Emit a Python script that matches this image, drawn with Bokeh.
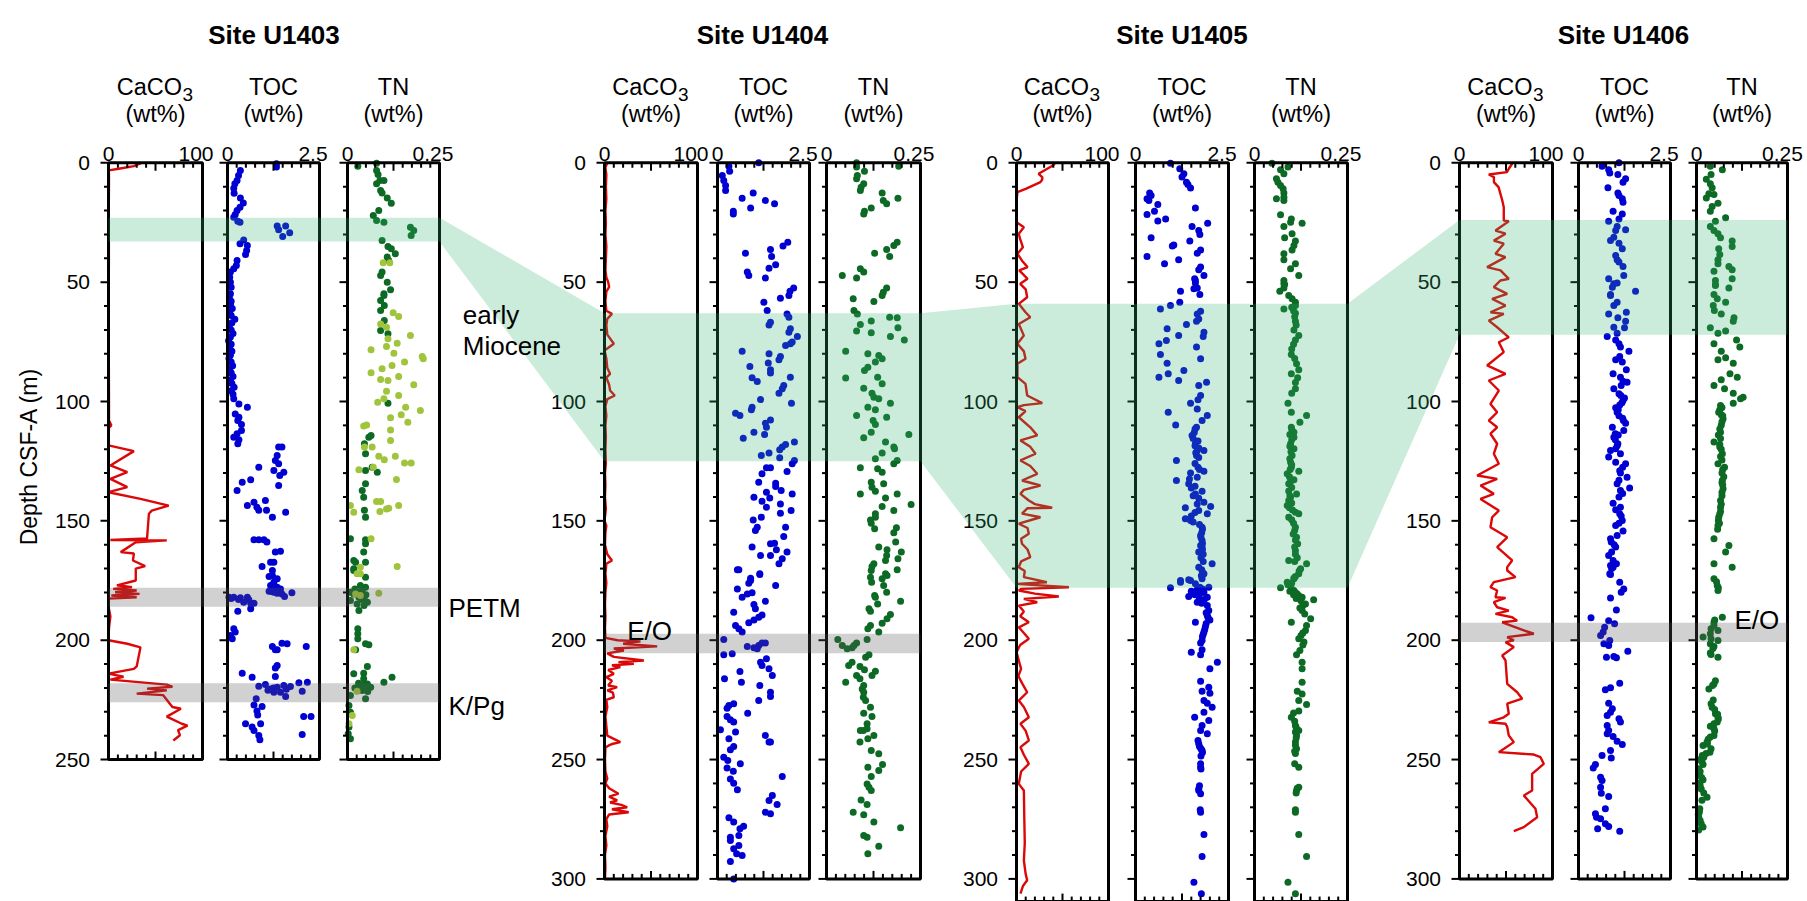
import math
from bokeh.plotting import figure
from bokeh.models import Range1d
from bokeh.core.properties import value
from bokeh.embed import file_html
from bokeh.resources import INLINE

# ======================= DATA =======================
SITES = ["Site U1403", "Site U1404", "Site U1405", "Site U1406"]
PROXIES = ["CaCO3", "TOC", "TN"]
AXIS_MAX = [100, 2.5, 0.25]
AXIS_MAX_LABELS = ["100", "2.5", "0.25"]
SITE_DEPTH_MAX = [250, 300, 309.5, 300]
DEPTH_TICK_LABELS = [[0, 50, 100, 150, 200, 250],
                     [0, 50, 100, 150, 200, 250, 300],
                     [0, 50, 100, 150, 200, 250, 300],
                     [0, 50, 100, 150, 200, 250, 300]]

# (depth m, CaCO3 wt%)
U1403_CACO3 = [(0, 35), (1.4, 27), (2.5, 11), (3.2, 0), (5, 0.5), (20, 0.3), (40, 0.4), (60, 0.2), (80, 0.3),
               (100, 0.5), (108, 0.5), (110, 3), (111, 0.5), (118.4, 0), (120.8, 27), (126.8, 2), (129.6, 20),
               (132.4, 2), (135.9, 20), (138, 0), (140.8, 34), (143.6, 64), (145.7, 46), (147, 43), (157.4, 41),
               (158.0, 2), (158.2, 62), (159, 29), (163.1, 13), (163.7, 27), (166.6, 26), (169, 39), (170, 29),
               (175, 29), (177, 9), (177.8, 25), (178.5, 5), (179.2, 30), (179.9, 7), (180.6, 33), (181.3, 3),
               (182, 30), (182.6, 0), (186, 0), (190, 2), (195, 0.5), (200, 0), (201.5, 20), (203, 34), (211, 30),
               (212, 27), (214, 0), (215.3, 16), (216.5, 2), (218.6, 62), (219.5, 68), (220.3, 41), (221, 62),
               (222.4, 30), (223, 58), (228, 68), (228.7, 77), (232, 62), (235, 78), (235.8, 84), (237.7, 74),
               (239.8, 76), (242, 69)]

U1404_CACO3 = [(0, 3), (2, 1), (5, 2), (10, 1.5), (15, 2), (20, 1), (25, 1.5), (30, 1), (35, 2), (40, 1.5), (45, 1),
               (48, 2), (50, 4), (52, 5), (54, 2), (58, 1), (62, 2), (63.3, 8), (65.4, 3), (68, 2), (72, 3),
               (75.8, 10), (78.6, 0), (82, 2), (86, 3), (88.4, 6), (90, 2), (93, 5), (95.4, 6), (97.5, 11), (99, 3),
               (102, 1), (106, 2), (110, 1), (115, 1.5), (120, 1), (126, 1.5), (130, 0.5), (135, 1), (140, 0.5),
               (145, 1.5), (150, 0), (152, 2), (155, 1), (160, 0.5), (164, 3), (166.6, 8), (168, 2), (172, 1),
               (176, 2), (180, 1), (185, 0.5), (190, 1), (195, 0.5), (199, 1), (200, 14), (200.5, 38.7),
               (201.5, 20), (202.6, 56.6), (203.5, 10), (204.3, 20.8), (205.5, 3), (207, 10), (208.5, 42.3),
               (209.2, 15), (209.9, 31.5), (210.5, 8), (211.3, 17), (212.5, 4), (214.1, 10), (215.5, 2), (217, 8),
               (219, 4), (219.7, 13.6), (221, 3), (222, 9), (223.9, 10), (225, 2), (228, 3), (232, 1), (236, 2),
               (240, 3), (242.7, 17), (243.5, 8), (244.1, 4.6), (245, 1), (250, 0.5), (255, 1), (258, 3), (260, 1),
               (262, 5), (264.3, 15), (265.5, 5), (267.1, 13.6), (268, 6), (269, 18), (270, 24.4), (270.8, 8),
               (272.1, 26), (273, 5), (275, 2), (278, 3), (282, 1), (286, 2), (290, 0.5), (295, 1), (300, 0.5)]

U1405_CACO3 = [(0, 42), (1, 40), (4.6, 24), (6, 28), (7, 28), (8.1, 26), (10.9, 10), (12.3, 1), (15.8, 0),
               (24.9, 0), (25.5, 2.5), (27, 8), (29.7, 2.5), (32, 4), (35.4, 7), (38.1, 1), (41, 6), (43.7, 12),
               (45.1, 3), (48.6, 12), (50.7, 4), (53, 10), (56.3, 11.6), (59.1, 2.5), (62.6, 9.8), (64.7, 15),
               (67.5, 2.5), (72.4, 8), (75.8, 1), (79, 8), (82.1, 9.8), (84.2, 1), (89.8, 1), (92.6, 9.8),
               (97.5, 11.6), (100.7, 28), (101.5, 8), (102.4, 1), (104, 9.8), (106.6, 2.5), (110.8, 15),
               (114.2, 22.5), (116.3, 4.3), (119, 15), (121.9, 20.7), (124.7, 4.3), (127, 15), (130.3, 22.5),
               (133.1, 6), (135.2, 26), (137, 8), (138.7, 4.3), (141.5, 13.4), (143, 20), (144.5, 38.8),
               (144.7, 12), (147, 6), (148.5, 26), (151.2, 2.5), (153, 12), (155.4, 13.4), (157.5, 5), (159.6, 6),
               (162, 12), (165.2, 15), (167, 5), (169.4, 2.5), (171, 9), (173.6, 8), (175.7, 33), (176.4, 0.7),
               (177.8, 57), (178.5, 5), (179.2, 2.5), (180.5, 20), (181.7, 46), (182.7, 8), (184.1, 22.5),
               (185.5, 2.5), (188, 8), (190, 4), (192.5, 13.4), (194.6, 2.5), (197, 8), (199.4, 13.4), (202, 4),
               (205, 0), (208.5, 2.5), (212, 5), (215, 2), (218, 6), (221.8, 11.6), (225.3, 2.5), (228, 8),
               (232.3, 13.4), (235, 4.3), (238, 10), (242, 13.4), (244.8, 4.3), (248, 8), (251.8, 13.4), (255, 5),
               (260.2, 2.5), (263, 8), (275, 8.5), (285, 9), (292.3, 8), (298, 10), (300.6, 11.6), (303, 7),
               (306.2, 4.3)]

U1406_CACO3 = [(0.4, 56.6), (2.5, 53), (3.9, 51), (4.9, 31.5), (6, 37), (8.1, 37), (10.2, 42), (13, 44),
               (15.8, 46), (18.6, 47.6), (21.4, 47.6), (24.2, 47.6), (24.5, 53), (28.4, 38.7), (29.7, 49.5),
               (32.6, 36.9), (33.9, 47.6), (38.1, 38.7), (39.5, 49.5), (43.7, 29.7), (45.1, 44.1), (48.6, 53),
               (49.3, 44), (52.1, 36.9), (54.9, 51.3), (57, 35.1), (59.8, 49.5), (62.6, 33.3), (63.3, 47.6),
               (66.1, 31.5), (68.9, 40.5), (73.1, 53), (75.2, 42.3), (79.3, 47.6), (84.9, 29.7), (88.4, 49.5),
               (91.2, 31.5), (95.4, 42.3), (101, 33.3), (104.5, 40.5), (108, 31.5), (110.8, 40.5), (113.5, 33.3),
               (117.7, 40.5), (121.9, 36.9), (126.1, 42.3), (131, 19), (132.4, 40.5), (135.2, 22.6), (138.7, 36.9),
               (140.8, 22.6), (145.7, 42.3), (148.5, 35.1), (152.7, 33.3), (156.9, 51.3), (161, 40.5),
               (166.6, 56.6), (169.4, 51.3), (170.8, 51.3), (173.6, 60.2), (175.7, 36.9), (177.8, 33.3),
               (179.2, 40.5), (182, 38.7), (182.3, 49.5), (184.1, 36.9), (186.2, 40.5), (187.6, 53), (189, 38.7),
               (190.4, 56.6), (191.8, 62), (192.5, 45.9), (195.9, 69.2), (197.3, 79.9), (198.7, 51.3),
               (200.1, 58.4), (200.8, 49.5), (202.9, 58.4), (206.4, 45.9), (208.5, 49.5), (218.3, 51.3),
               (221.8, 62), (224.5, 67.4), (226.6, 51.3), (230.8, 53), (232.3, 47.6), (234.4, 31.5), (235, 49.5),
               (236.4, 51.3), (239.9, 53), (242.7, 58.4), (246.9, 42.3), (247.9, 79.9), (249, 87.1), (251.8, 90.6),
               (256, 78.1), (263, 78.1), (265.1, 69.2), (270.6, 81.7), (274.2, 83.5), (278.3, 69.2), (280, 58.4)]

# (depth m, TOC wt%)
U1403_TOC = [(0.4, 1.33), (1.8, 1.33), (3.2, 0.35), (5.3, 0.3), (7.4, 0.26), (8.8, 0.2), (10.7, 0.17), (12.8, 0.18),
             (14.7, 0.35), (16.8, 0.43), (18.6, 0.34), (20, 0.26), (21.7, 0.21), (22.8, 0.17), (24.5, 0.28),
             (24.9, 0.34), (26.5, 1.35), (26.5, 1.58), (28.1, 1.39), (29.3, 1.69), (30.9, 1.5), (32.3, 0.44),
             (33.9, 0.34), (34.6, 0.54), (36.7, 0.52), (38.4, 0.49), (40.9, 0.26), (43, 0.24), (44.4, 0.17),
             (45.8, 0.08), (47.9, 0.06), (50, 0.08), (52.1, 0.1), (54.9, 0.08), (56.5, 0.05), (58, 0.1), (59.5, 0.08),
             (61, 0.13), (62.5, 0.06), (64, 0.1), (65.5, 0.2), (67, 0.12), (68.5, 0.05), (70, 0.1), (71.5, 0.15),
             (73, 0.08), (74.5, 0.03), (76, 0.1), (77.5, 0.06), (79, 0.12), (80.5, 0.08), (82, 0.04), (83.5, 0.1),
             (85, 0.14), (86.5, 0.06), (88, 0.1), (89.5, 0.15), (91, 0.08), (92.5, 0.12), (94, 0.18), (95.5, 0.1),
             (97, 0.15), (98.9, 0.17), (101, 0.31), (102.4, 0.54), (105.2, 0.21), (106.6, 0.31), (108, 0.28),
             (109.6, 0.38), (112.1, 0.38), (113.5, 0.26), (115, 0.17), (116, 0.31), (117.7, 0.28), (119.1, 1.39),
             (119.1, 1.48), (122.6, 1.35), (124.7, 1.3), (126.1, 1.39), (127.5, 0.85), (128.9, 1.26), (129.6, 1.53),
             (131, 1.42), (135.2, 1.39), (132.8, 0.63), (133.8, 0.4), (137.3, 0.26), (143.6, 0.54), (142.2, 0.72),
             (144.3, 0.8), (141.5, 1.03), (145.6, 0.85), (145.6, 1.06), (148.5, 1.22), (146.4, 1.58), (157.9, 0.72),
             (157.9, 0.85), (157.9, 0.99), (158.9, 1.07), (163.1, 1.3), (162.7, 1.44), (169.1, 0.94), (167.3, 1.17),
             (170.8, 1.22), (172.9, 1.22), (174.3, 1.35), (167.3, 1.26), (173.3, 1.13), (175.7, 1.26),
             (177.1, 1.17), (177.8, 1.35), (178.5, 1.44), (179.5, 1.13), (179.9, 1.26), (180.6, 1.48),
             (180.1, 1.75), (181.7, 1.55), (179, 1.3), (178.8, 1.4), (180.3, 1.35), (179.6, 1.2), (182, 0.04),
             (182, 0.17), (182.2, 0.35), (182, 0.54), (183.1, 0.58), (184.1, 0.44), (184.5, 0.63), (184.5, 0.72),
             (187.9, 0.28), (186.8, 0.63), (182.5, 0.1), (183, 0.3), (195.2, 0.17), (196.6, 0.21), (198, 0.08),
             (199.4, 0.13), (202.6, 1.22), (204, 1.3), (201.3, 1.48), (201.5, 1.62), (202.6, 2.14), (204, 1.35),
             (210.6, 1.35), (211.6, 1.3), (213.8, 0.4), (215.5, 0.67), (215.2, 1.3), (219.3, 0.85), (218.6, 1.03),
             (220.4, 1.17), (219.7, 1.35), (219, 1.53), (219.4, 1.71), (217.8, 1.94), (217.6, 2.17), (221.4, 2.03),
             (223.6, 1.58), (221.8, 1.26), (221.8, 1.44), (220.5, 1.6), (220, 1.25), (221, 1.1), (224.5, 0.78),
             (227.1, 0.72), (227.8, 0.94), (229.7, 0.8), (231.3, 0.82), (232, 2.07), (232, 2.27), (235, 0.49),
             (236.4, 0.67), (237.8, 0.72), (235, 0.9), (239.9, 0.85), (241.7, 0.88), (239.5, 2.03)]

U1404_TOC = [(0, 1.12), (1.4, 0.31), (3.5, 0.33), (5.3, 0.13), (7.4, 0.17), (9.5, 0.22), (11.6, 0.22), (12.7, 0.97),
             (14.8, 0.67), (15.8, 1.3), (17.2, 1.55), (18.9, 0.9), (20.3, 0.43), (21.4, 0.43), (33.3, 1.91),
             (34.9, 1.78), (36.3, 1.44), (39.3, 1.47), (37.9, 0.76), (42.7, 1.58), (44.2, 1.4), (45.8, 0.81),
             (47.2, 0.85), (48.3, 1.3), (52.4, 2.07), (53.8, 1.97), (55.6, 1.94), (56.7, 1.71), (58.4, 1.26),
             (61.9, 1.35), (63.3, 1.89), (64.7, 1.94), (66.8, 1.44), (67.9, 1.4), (69.5, 1.98), (71, 1.94),
             (72.8, 2.17), (75.1, 2.03), (76.5, 1.85), (75.8, 1.98), (78.9, 0.67), (80, 1.4), (81.1, 1.71),
             (82.5, 1.67), (83.9, 1.38), (85.3, 0.88), (86.7, 1.44), (88.1, 1.44), (90.1, 0.94), (91.6, 1.08),
             (89.8, 1.98), (93.3, 1.8), (94.7, 1.76), (96.5, 1.67), (99.2, 1.17), (100.7, 2.01), (104.9, 0.49),
             (105.9, 0.61), (102.4, 0.94), (103.5, 0.92), (107.7, 1.44), (109.1, 1.3), (110.8, 1.33), (112.9, 0.99),
             (115.4, 0.7), (113.8, 1.28), (117, 2.09), (118, 1.85), (119.1, 1.76), (120.2, 1.69), (124.7, 2.09),
             (126.1, 2.03), (122.6, 1.19), (121.6, 1.4), (123.6, 1.69), (127.8, 1.44), (127.8, 1.33), (129.3, 1.89),
             (130.3, 1.21), (133.8, 1.12), (134.2, 1.58), (135.6, 1.58), (137.3, 1.73), (138, 1.33), (140.4, 1.42),
             (138.7, 2.03), (140.1, 0.99), (141.8, 1.21), (142.9, 1.71), (144.3, 1.33), (145.7, 2.0), (146.8, 1.71),
             (149.6, 0.97), (148.5, 1.19), (152.7, 1.08), (154, 1.03), (152.7, 1.85), (156.6, 1.8), (159.4, 1.55),
             (162.1, 1.6), (159.6, 1.44), (161, 0.94), (163.1, 1.89), (165.9, 1.76), (168, 1.67), (164.5, 1.44),
             (164.5, 1.17), (170.5, 0.54), (170.5, 0.58), (172.2, 1.15), (174, 0.9), (175, 0.9), (176.1, 0.85),
             (172.5, 1.15), (177.1, 1.58), (178.5, 0.54), (180.6, 0.81), (180.1, 0.94), (182, 0.67), (183.7, 1.3),
             (185, 0.99), (186.8, 1.03), (189.4, 1.21), (190.4, 1.12), (191.5, 0.99), (192.7, 0.85), (188.3, 0.44),
             (193.8, 0.49), (195.2, 0.58), (196.6, 0.67), (199.7, 0.17), (202.6, 0.81), (203.2, 0.99), (203.6, 1.08),
             (202.2, 1.12), (201.2, 1.21), (201.2, 1.3), (206.1, 0.17), (205.7, 0.4), (207.8, 1.33), (209.2, 1.17),
             (210.6, 1.21), (212, 1.4), (214.8, 1.49), (213.1, 0.61), (216.2, 0.19), (217.6, 0.65), (219, 1.15),
             (221.8, 1.44), (223.6, 1.44), (225.3, 1.12), (227.4, 0.31), (228.5, 0.26), (226.6, 0.44), (230.6, 0.82),
             (232, 0.26), (233.3, 0.35), (234.3, 0.44), (237.5, 0.08), (238.5, 0.49), (241.3, 0.31), (239.9, 1.3),
             (242.7, 1.4), (242.7, 1.44), (244.5, 0.44), (245.9, 0.35), (249, 0.17), (250.4, 0.28), (251.8, 0.62),
             (253.5, 0.26), (254.9, 0.43), (257.1, 1.76), (258.1, 0.35), (259.9, 0.44), (262.7, 0.54), (265.1, 1.49),
             (267.2, 1.4), (268.8, 1.62), (272.1, 1.3), (272.7, 1.44), (274.4, 0.31), (276.2, 0.44), (277.9, 0.71),
             (279, 0.61), (282.5, 0.35), (283.9, 0.35), (281.8, 0.58), (286, 0.58), (287.4, 0.44), (292.7, 0.35),
             (289.5, 0.52), (290.2, 0.67), (300, 0.44)]

U1405_TOC = [(0.2, 0.94), (2.5, 1.19), (4.6, 1.3), (6, 1.25), (8.1, 1.37), (9.1, 1.41), (10.6, 1.48), (12.7, 0.38),
             (13.7, 0.42), (15.1, 0.31), (15.8, 0.36), (17.5, 0.6), (20.3, 0.51), (21.7, 0.31), (24.4, 0.6),
             (23.5, 0.81), (18.9, 1.61), (25.3, 1.94), (26.7, 1.52), (28.4, 1.7), (30, 1.73), (31.4, 0.42),
             (34.4, 1.03), (34.9, 0.99), (32.8, 1.46), (36.5, 1.75), (37.9, 1.66), (39.3, 0.31), (40.6, 1.16),
             (42.3, 0.78), (43.7, 1.75), (44.8, 1.7), (47.2, 1.84), (48.6, 1.59), (50.4, 1.61), (52.4, 1.66),
             (53.8, 1.21), (55.2, 1.73), (49.3, 1.61), (52.8, 1.57), (58.4, 1.19), (59.8, 0.94), (61.2, 0.67),
             (62.2, 1.75), (63.3, 1.66), (65.4, 1.7), (66.4, 1.64), (67.7, 1.37), (69.5, 0.85), (71, 1.84),
             (72.8, 1.82), (75.8, 0.63), (74.4, 0.83), (72.4, 1.16), (77.2, 1.64), (80.3, 0.67), (82.1, 1.75),
             (84, 0.85), (88.4, 0.88), (87, 1.3), (89.8, 0.63), (91.2, 1.16), (91.9, 1.91), (93.3, 1.7), (97.5, 1.75),
             (99.3, 1.68), (100.7, 1.48), (103.1, 1.66), (104.5, 0.88), (105.9, 1.93), (108, 1.79), (109.8, 1.08),
             (110.8, 1.64), (114.2, 1.52), (117.7, 1.61), (120.5, 1.66), (120.5, 1.84), (122.6, 1.64), (127.5, 1.68),
             (124.7, 1.1), (130, 1.48), (131.7, 1.66), (129.2, 1.84), (133.1, 1.1), (134.5, 1.43), (136.2, 1.5),
             (137.6, 1.79), (138.7, 1.61), (142.2, 1.84), (144, 2.02), (142.9, 1.66), (144.5, 1.34), (145.7, 1.7),
             (149.1, 1.34), (147, 1.93), (149.9, 1.48), (152.7, 1.79), (156.1, 1.75), (158.2, 1.79), (161, 1.79),
             (163.1, 1.7), (168, 2.06), (169.4, 1.7), (172.2, 1.84), (174.3, 1.79), (175, 1.21), (174.7, 1.43),
             (111.5, 1.6), (113, 1.58), (115.5, 1.55), (116.5, 1.68), (118.5, 1.6), (119.5, 1.7), (121.5, 1.62),
             (123.5, 1.7), (126, 1.6), (128.5, 1.72), (132.5, 1.45), (135.5, 1.6), (139.5, 1.55), (140.5, 1.7),
             (146.5, 1.6), (148, 1.5), (150.5, 1.55), (151.5, 1.72), (153.5, 1.8), (155, 1.78), (157, 1.76),
             (159.5, 1.8), (160.3, 1.75), (162, 1.8), (164, 1.82), (165.5, 1.76), (167, 1.82), (170.5, 1.78),
             (171.5, 1.8), (173, 1.77), (172.9, 1.79), (175.7, 1.21), (175, 1.48), (178, 0.94), (176.4, 1.61),
             (177.8, 1.73), (177.8, 1.97), (181.7, 1.43), (180.6, 1.7), (179.9, 1.84), (183.4, 1.75), (182, 1.93),
             (184.1, 1.66), (185.5, 1.93), (187.6, 1.97), (189.7, 1.93), (191.5, 2.0), (192.5, 1.61), (194.3, 1.88),
             (196.6, 1.84), (200.1, 1.79), (201.2, 1.75), (205, 1.5), (204, 1.79), (206.1, 1.75), (209.2, 2.2),
             (212, 2.0), (217.2, 1.75), (221.4, 1.79), (219.7, 1.97), (222.2, 2.0), (225.3, 1.84), (226.4, 1.93),
             (228.1, 2.06), (230.2, 1.84), (232.3, 1.59), (233.6, 1.97), (235.7, 1.79), (239.2, 1.93), (237.8, 1.75),
             (242, 1.68), (243.4, 1.7), (246.2, 1.79), (251.8, 1.75), (253.2, 1.75), (262.3, 1.7), (264.3, 1.75),
             (272.1, 1.75), (281.4, 1.84), (290.6, 1.79), (301.4, 1.57), (306.2, 1.77), (178.5, 1.8), (179, 1.65),
             (180, 1.78), (181, 1.6), (182.5, 1.72), (183, 1.85), (184.5, 1.78), (179.5, 1.5), (180.5, 1.55),
             (188.5, 1.9), (190.5, 1.95), (193, 1.9), (195.5, 1.86), (197.5, 1.82), (198.5, 1.8), (244.5, 1.72),
             (245.5, 1.76), (247, 1.8), (248.5, 1.76), (261, 1.72), (263, 1.7), (271, 1.74), (254, 1.76)]

U1406_TOC = [(0, 1.1), (1.4, 0.64), (2.9, 0.82), (4.3, 0.85), (4.9, 1.07), (6.7, 1.28), (8.1, 1.21), (10.5, 0.8),
             (12.7, 1.07), (13.7, 1.1), (15.1, 1.19), (16.5, 1.21), (20.3, 0.94), (21.4, 1.19), (23.5, 1.1),
             (24.5, 0.82), (26.7, 1.05), (28.4, 1.01), (28.1, 1.28), (32.6, 0.87), (31.2, 0.96), (33.7, 1.1),
             (36, 1.19), (38.8, 1.01), (40.6, 1.05), (41.6, 1.1), (43.4, 1.21), (47.2, 1.23), (48.6, 0.82),
             (50.7, 0.96), (50.4, 1.05), (53.8, 1.55), (55.2, 0.87), (52.1, 0.92), (55.6, 0.87), (58.4, 1.05),
             (59.8, 0.96), (63.3, 0.82), (62.6, 1.3), (64.9, 1.07), (66.4, 1.28), (68.9, 0.96), (69.1, 1.25),
             (71.4, 1.05), (72.8, 0.78), (74.2, 1.01), (75.8, 1.1), (77.2, 1.14), (78.9, 1.37), (81.1, 1.12),
             (82.5, 1.01), (83.5, 1.19), (88.4, 0.94), (86.7, 1.3), (89.8, 1.14), (91.5, 1.21), (91.9, 1.32),
             (93.3, 1.16), (94.7, 0.96), (96.8, 1.1), (99.6, 1.21), (102.6, 1.01), (104.5, 1.05), (109.1, 1.28),
             (112.1, 1.23), (110.8, 0.92), (115, 0.96), (117.7, 1.07), (119.8, 1.01), (120.5, 0.87), (123.3, 0.82),
             (121.9, 1.14), (126.1, 1.28), (125.4, 1.01), (130, 1.14), (131.7, 1.32), (136.2, 1.39), (137.3, 1.14),
             (134.5, 1.05), (142.6, 0.94), (144.3, 1.14), (145.4, 1.01), (149.9, 1.19), (152, 1.01), (154.3, 1.21),
             (156.1, 1.05), (157.5, 0.87), (158.9, 0.89), (161, 1.01), (164.5, 0.82), (168.7, 0.87), (166.6, 0.94),
             (172.2, 0.85), (97.5, 1.15), (98.5, 1.25), (100.5, 1.18), (101.5, 1.12), (103.5, 1.08), (106, 1.1),
             (107, 1.2), (108, 1.22), (113.5, 1.0), (114, 1.08), (116, 1.0), (118.5, 1.05), (127.5, 1.2),
             (129, 1.12), (133, 1.1), (138.5, 1.2), (140, 1.1), (147, 1.12), (148, 1.16), (151, 1.1), (160, 0.97),
             (163, 0.9), (170, 0.9), (168, 1.03), (169.4, 0.94), (172.5, 0.87), (175.7, 1.12), (178.5, 1.23),
             (179.9, 1.16), (182.3, 0.87), (187.3, 1.03), (190.6, 0.34), (191.8, 0.82), (193.1, 0.98), (194.6, 0.71),
             (196.6, 0.67), (198, 0.6), (200.1, 0.85), (201.5, 0.69), (202.2, 0.82), (206.8, 0.96), (207.4, 1.03),
             (204.6, 1.34), (207.1, 0.76), (218, 1.12), (219.9, 0.87), (220.8, 0.73), (226.4, 0.82), (228.7, 0.92),
             (230.2, 0.87), (231.5, 0.78), (232.9, 1.1), (234.3, 1.14), (235.7, 0.78), (237.8, 0.82), (240.3, 0.94),
             (239.2, 0.78), (242.3, 1.05), (243.7, 1.19), (246.2, 0.87), (248.3, 0.64), (249.4, 0.89), (252.1, 0.46),
             (253.5, 0.4), (257.4, 0.6), (258.8, 0.64), (261.6, 0.6), (264.1, 0.62), (265.5, 0.82), (270.6, 0.73),
             (272.7, 0.46), (274.2, 0.49), (274.8, 0.6), (276.9, 0.73), (278, 0.82), (279, 0.52), (280, 1.12)]

# (depth m, TN wt%)
U1403_TN = [(1.4, 0.028), (0.2, 0.079), (3.2, 0.079), (4.9, 0.083), (7.4, 0.088), (8.8, 0.079), (7.4, 0.099),
            (11.6, 0.09), (12.7, 0.094), (14.7, 0.108), (16.9, 0.119), (20, 0.085), (22.1, 0.07), (24.2, 0.079),
            (24.9, 0.099), (27, 0.171), (28.4, 0.18), (30.5, 0.173), (32.6, 0.094), (35.1, 0.11), (36, 0.119),
            (38.1, 0.13), (39.5, 0.108), (40.9, 0.112), (45.8, 0.094), (47.2, 0.09), (50, 0.108), (53.2, 0.117),
            (54.9, 0.099), (55.6, 0.099), (57.7, 0.09), (59.8, 0.1), (61.9, 0.09), (66.1, 0.1), (70.3, 0.09),
            (71.6, 0.11), (100.7, 0.11), (114.2, 0.064), (115, 0.058), (117.7, 0.046), (121.9, 0.049),
            (127.5, 0.067), (128.9, 0.049), (129.6, 0.081), (134.5, 0.049), (137.3, 0.04), (140.1, 0.044),
            (145.6, 0.046), (148.5, 0.049), (157.5, 0.008), (157.9, 0.049), (159.6, 0.049), (163.1, 0.044),
            (166.6, 0.017), (167.3, 0.049), (170.1, 0.017), (173.6, 0.049), (167.3, 0.022), (170.8, 0.017),
            (177.1, 0.035), (177.8, 0.049), (179.9, 0.008), (180.6, 0.017), (182, 0.031), (181.3, 0.044),
            (184.1, 0.054), (184.8, 0.026), (183.4, 0.008), (187.6, 0.031), (179, 0.04), (178.5, 0.02),
            (181, 0.05), (182.5, 0.045), (180, 0.03), (183, 0.038), (185.5, 0.045), (195.2, 0.028),
            (197.3, 0.028), (199.4, 0.028), (201.5, 0.049), (201.9, 0.058), (204, 0.022), (211, 0.054),
            (213.8, 0.044), (214.1, 0.017), (216.2, 0.044), (218.3, 0.054), (219.7, 0.063), (221.1, 0.04),
            (217.6, 0.099), (215.5, 0.121), (224.5, 0.049), (223.2, 0.008), (227.4, 0.004), (230.2, 0.008),
            (236.4, 0.004), (239.2, 0.002), (241.3, 0.008), (218.8, 0.045), (219.5, 0.035), (220.5, 0.05),
            (218, 0.03), (220, 0.02), (221.5, 0.055)]

U1403_TN_ALT = [(41.9, 0.097), (41.9, 0.115), (62.8, 0.124), (64.4, 0.139), (67.5, 0.09), (68.9, 0.106),
                (72.4, 0.171), (73.7, 0.11), (75.6, 0.135), (78.3, 0.064), (77, 0.106), (79.8, 0.126),
                (81.1, 0.203), (82.1, 0.206), (83.5, 0.155), (86.3, 0.094), (84.9, 0.121), (88, 0.064),
                (90.8, 0.09), (91.2, 0.11), (89.5, 0.139), (93, 0.18), (95.7, 0.106), (98.9, 0.099),
                (100.3, 0.082), (97.5, 0.139), (102.4, 0.158), (103.8, 0.198), (106.8, 0.117), (105.6, 0.146),
                (108.7, 0.164), (110.3, 0.044), (109.8, 0.052), (111.9, 0.117), (116.3, 0.117), (119.1, 0.046),
                (119.1, 0.067), (122.9, 0.085), (124.4, 0.1), (122.9, 0.13), (125.8, 0.155), (125.8, 0.173),
                (128.6, 0.031), (127.5, 0.07), (132.7, 0.133), (143.6, 0.008), (146.4, 0.017), (141.9, 0.079),
                (141.9, 0.09), (146.1, 0.088), (145, 0.106), (144.7, 0.112), (143.6, 0.139), (157.5, 0.064),
                (169.1, 0.135), (169.4, 0.035), (172.2, 0.035), (172.2, 0.026), (180.3, 0.085), (180.6, 0.022),
                (181.3, 0.035), (204, 0.017), (231.5, 0.013), (235, 0.004), (221.4, 0.026)]

U1404_TN = [(0, 0.08), (1.8, 0.08), (3.5, 0.101), (5.3, 0.082), (6.7, 0.08), (8.8, 0.099), (10.2, 0.092),
            (11.6, 0.09), (1.4, 0.192), (12.7, 0.148), (14.8, 0.19), (15.8, 0.151), (17.2, 0.16), (18.9, 0.119),
            (20.3, 0.101), (21.4, 0.099), (33.3, 0.188), (34.6, 0.179), (36.3, 0.16), (39.3, 0.168), (37.9, 0.128),
            (44.4, 0.09), (45.8, 0.099), (48.3, 0.08), (47.2, 0.042), (52.4, 0.16), (54.2, 0.151), (55.6, 0.148),
            (57, 0.071), (58.1, 0.126), (61.9, 0.073), (63.3, 0.082), (64.7, 0.168), (64.9, 0.188), (66.3, 0.119),
            (67.7, 0.09), (70.5, 0.08), (71.2, 0.119), (69.1, 0.19), (72.8, 0.17), (74.2, 0.207), (78.9, 0.051),
            (80, 0.11), (80.7, 0.139), (82.1, 0.148), (83.5, 0.13), (85.6, 0.11), (87, 0.101), (90.2, 0.051),
            (89.8, 0.136), (92.6, 0.148), (94.4, 0.099), (96.5, 0.121), (98.2, 0.126), (98.9, 0.139), (100.7, 0.17),
            (102.4, 0.11), (103.5, 0.13), (105.9, 0.08), (106.6, 0.16), (108, 0.124), (109.6, 0.13),
            (112.9, 0.119), (115.2, 0.099), (113.8, 0.219), (117, 0.157), (119.1, 0.179), (119.8, 0.181),
            (121.6, 0.148), (124, 0.13), (124.7, 0.188), (126.1, 0.179), (127.8, 0.09), (128.2, 0.136),
            (129.6, 0.148), (133.8, 0.119), (134.5, 0.152), (135.9, 0.121), (137.6, 0.13), (138.7, 0.09),
            (138.7, 0.188), (140.4, 0.157), (144, 0.148), (145.7, 0.179), (143.2, 0.225), (147, 0.13),
            (148.5, 0.13), (149.6, 0.117), (151, 0.119), (153.3, 0.128), (152.9, 0.186), (155, 0.179),
            (158.9, 0.184), (163.1, 0.199), (165.9, 0.19), (162.1, 0.161), (161, 0.139), (164.5, 0.16),
            (170.5, 0.188), (172.2, 0.157), (169.1, 0.121), (170.8, 0.119), (173.6, 0.117), (168, 0.126),
            (166.6, 0.157), (172.9, 0.161), (174.3, 0.148), (175.7, 0.12), (177.1, 0.152), (179.9, 0.16),
            (181.3, 0.128), (182, 0.13), (184.8, 0.136), (183.7, 0.197), (186.8, 0.113), (187.9, 0.117),
            (189.2, 0.17), (191, 0.161), (192.9, 0.148), (195.2, 0.11), (193.8, 0.117), (196.6, 0.139),
            (199.7, 0.03), (202.2, 0.042), (203.6, 0.055), (203.2, 0.068), (201.2, 0.08), (202.2, 0.073),
            (199.7, 0.108), (207.1, 0.104), (206.1, 0.113), (209.2, 0.068), (210.6, 0.059), (211, 0.089),
            (212.4, 0.101), (213, 0.13), (214.8, 0.121), (214.8, 0.08), (216.2, 0.089), (217.6, 0.051),
            (219, 0.099), (220.4, 0.095), (221.8, 0.099), (223.9, 0.098), (225.3, 0.104), (228.1, 0.117),
            (232, 0.121), (230.6, 0.099), (235, 0.108), (237.1, 0.108), (237.8, 0.09), (237.8, 0.098),
            (239.9, 0.126), (242.7, 0.089), (241.3, 0.11), (246.2, 0.119), (247.6, 0.139), (252.1, 0.149),
            (254.6, 0.139), (253.2, 0.11), (257.1, 0.119), (260.2, 0.108), (261.6, 0.113), (263, 0.119),
            (266.9, 0.092), (268.8, 0.108), (272.1, 0.071), (273.1, 0.099), (276.2, 0.126), (278.6, 0.197),
            (281.8, 0.099), (282.5, 0.108), (286.3, 0.139), (289.5, 0.11)]

U1405_TN = [(0.2, 0.047), (2.9, 0.07), (1.8, 0.09), (4.6, 0.079), (6.7, 0.059), (8.1, 0.063), (9.5, 0.07),
            (10.9, 0.077), (12.7, 0.079), (14.4, 0.079), (15.1, 0.059), (15.8, 0.079), (21.8, 0.07), (23.5, 0.099),
            (24.9, 0.097), (25.3, 0.128), (26.7, 0.079), (29.7, 0.101), (31.4, 0.081), (32.8, 0.11), (34.6, 0.106),
            (36.5, 0.101), (38.1, 0.079), (40.6, 0.079), (42.3, 0.11), (44.4, 0.097), (47.2, 0.119), (50.7, 0.079),
            (52.4, 0.079), (53.8, 0.068), (55.6, 0.092), (57, 0.101), (49.3, 0.079), (51, 0.081), (58.4, 0.11),
            (61.2, 0.079), (59.8, 0.11), (63, 0.11), (66.4, 0.11), (72.4, 0.119), (74.2, 0.11), (80.3, 0.099),
            (84.2, 0.113), (86.7, 0.119), (88.4, 0.099), (90.1, 0.116), (94.7, 0.11), (100.7, 0.09),
            (104.5, 0.099), (105.9, 0.14), (108.7, 0.122), (110.8, 0.099), (112.9, 0.106), (115, 0.106),
            (117.7, 0.097), (119.8, 0.106), (122.6, 0.101), (125.4, 0.097), (127.5, 0.099), (129.2, 0.119),
            (130.3, 0.088), (134.5, 0.092), (132.8, 0.106), (138.7, 0.113), (140.1, 0.097), (143.6, 0.088),
            (146.4, 0.11), (147, 0.119), (148.5, 0.092), (152.7, 0.11), (156.9, 0.113), (159.6, 0.116),
            (162.4, 0.11), (168, 0.14), (170.1, 0.124), (172.2, 0.119), (174.3, 0.106), (60.5, 0.1), (62, 0.105),
            (64.5, 0.108), (68, 0.112), (70, 0.106), (76, 0.105), (78, 0.1), (82, 0.108), (92, 0.11), (96.5, 0.1),
            (111.5, 0.1), (113.8, 0.095), (116, 0.1), (118.7, 0.095), (121, 0.098), (124, 0.095), (126.5, 0.1),
            (128.5, 0.096), (131.5, 0.094), (133.5, 0.097), (136, 0.1), (137.5, 0.092), (139.5, 0.095),
            (141.5, 0.092), (142.5, 0.1), (144.5, 0.094), (145.5, 0.102), (149.5, 0.1), (151, 0.105),
            (154, 0.108), (155.5, 0.104), (158, 0.11), (161, 0.108), (164, 0.11), (165.5, 0.115), (167, 0.108),
            (171, 0.12), (173.3, 0.11), (166.6, 0.092), (173.9, 0.106), (175.7, 0.088), (178, 0.07),
            (177.1, 0.097), (179.2, 0.106), (180.6, 0.115), (182, 0.128), (183.1, 0.159), (184.8, 0.137),
            (187.6, 0.128), (191, 0.151), (192.5, 0.099), (193.8, 0.14), (195.9, 0.137), (199.4, 0.119),
            (200.8, 0.133), (204.3, 0.122), (206.1, 0.113), (209.2, 0.128), (212, 0.128), (217.6, 0.128),
            (221.4, 0.115), (222.5, 0.128), (225.3, 0.119), (226.9, 0.14), (229.7, 0.119), (232.3, 0.099),
            (235.7, 0.11), (237.8, 0.119), (239.9, 0.113), (242.7, 0.11), (245.5, 0.113), (251.8, 0.108),
            (253.2, 0.119), (263, 0.113), (261.6, 0.119), (272.1, 0.11), (281.4, 0.119), (290.6, 0.14),
            (301.4, 0.09), (306.2, 0.11), (176, 0.1), (176.8, 0.09), (178.5, 0.1), (179.5, 0.095), (180, 0.11),
            (181, 0.105), (181.5, 0.12), (182.5, 0.112), (183.5, 0.125), (185.5, 0.13), (186.5, 0.122),
            (189, 0.135), (197, 0.13), (198, 0.125), (202, 0.13), (230.5, 0.105), (234, 0.108), (236.5, 0.112),
            (238.5, 0.11), (241, 0.112), (244, 0.11), (246.5, 0.108), (247.5, 0.11), (262, 0.115), (264, 0.112),
            (271, 0.11)]

U1406_TN = [(1.4, 0.038), (2.9, 0.071), (4.9, 0.04), (6.9, 0.027), (8.8, 0.038), (10.5, 0.043), (13, 0.034),
            (14.7, 0.027), (13.3, 0.048), (16.9, 0.059), (18.3, 0.043), (20.3, 0.038), (23, 0.08), (24.5, 0.052),
            (26.7, 0.038), (28.4, 0.048), (29.7, 0.059), (31.4, 0.066), (32.8, 0.098), (35.1, 0.098), (36, 0.061),
            (38.4, 0.064), (40.6, 0.059), (42.3, 0.059), (43.4, 0.089), (44.8, 0.098), (45.4, 0.048),
            (48.6, 0.098), (49.3, 0.052), (51, 0.052), (52.4, 0.089), (55.2, 0.048), (57, 0.057), (51.4, 0.052),
            (58.4, 0.08), (59.8, 0.046), (61.9, 0.049), (63.3, 0.068), (64.9, 0.103), (66.4, 0.101), (69.1, 0.038),
            (71.4, 0.059), (70.5, 0.08), (74.2, 0.11), (77.2, 0.119), (75.8, 0.048), (78.9, 0.068), (82.5, 0.059),
            (81.7, 0.08), (84, 0.101), (88.4, 0.092), (89.8, 0.112), (90.9, 0.068), (93.3, 0.048), (94.7, 0.077),
            (96.5, 0.101), (98.2, 0.128), (98.9, 0.121), (100.7, 0.101), (101.7, 0.066), (104.5, 0.061),
            (107.2, 0.073), (110, 0.068), (117, 0.048), (112.9, 0.066), (119.1, 0.064), (121.9, 0.071),
            (126.1, 0.059), (127.5, 0.077), (133.1, 0.071), (136.6, 0.073), (141.5, 0.066), (144.3, 0.066),
            (148.5, 0.061), (152, 0.059), (157.5, 0.048), (160.3, 0.089), (163.1, 0.08), (168, 0.048),
            (169.4, 0.098), (174.3, 0.048), (102.5, 0.07), (103.5, 0.064), (105.5, 0.068), (106, 0.072),
            (108.5, 0.07), (111.5, 0.064), (114, 0.06), (115.5, 0.066), (118, 0.064), (120, 0.068), (123, 0.066),
            (124.5, 0.07), (128.5, 0.072), (130, 0.07), (131.5, 0.075), (134, 0.07), (135, 0.072), (138, 0.07),
            (139.5, 0.07), (143, 0.068), (146, 0.066), (147, 0.064), (150, 0.06), (151, 0.063), (153.5, 0.058),
            (177.1, 0.057), (179.2, 0.059), (190.4, 0.071), (192.5, 0.048), (193.8, 0.048), (195.2, 0.04),
            (195.9, 0.059), (197.3, 0.038), (198.7, 0.018), (199.4, 0.04), (200.1, 0.059), (201.5, 0.038),
            (202.6, 0.048), (205.4, 0.038), (207.1, 0.059), (218.3, 0.048), (220.4, 0.034), (226.6, 0.04),
            (228.1, 0.043), (230.8, 0.052), (232.3, 0.059), (234.3, 0.057), (236.1, 0.038), (237.1, 0.048),
            (239.9, 0.048), (240.6, 0.038), (242.7, 0.029), (244.1, 0.018), (245.5, 0.04), (246.9, 0.037),
            (248.3, 0.016), (250.1, 0.009), (252.1, 0.018), (253.9, 0.006), (256.7, 0.009), (258.5, 0.018),
            (259.9, 0.009), (262.3, 0.013), (265.8, 0.029), (270.6, 0.009), (274.2, 0.006), (276.9, 0.013),
            (278.3, 0.018), (279.5, 0.006), (175.5, 0.055), (178, 0.06), (191.5, 0.05), (203.5, 0.045),
            (206, 0.04), (217, 0.052), (219, 0.044), (225, 0.046), (229, 0.05), (231, 0.058), (233, 0.06),
            (235, 0.048), (238, 0.05), (241.5, 0.032), (243.5, 0.03), (247.5, 0.026), (249, 0.02), (251, 0.015),
            (255, 0.01), (257.5, 0.014), (261, 0.01), (264, 0.02), (267, 0.015), (272, 0.008), (273, 0.005),
            (275.5, 0.01)]

# early Miocene interval (depth m) at each site
MIOCENE_TOP = [23, 63, 59, 24]
MIOCENE_BASE = [33, 125, 178, 72]
# event horizons: (label, site index, top depth, base depth)
EVENTS = [("PETM", 0, 178, 186), ("K/Pg", 0, 218, 226), ("E/O", 1, 197.3, 205.5), ("E/O", 3, 192.7, 200.8)]

CACO3 = [U1403_CACO3, U1404_CACO3, U1405_CACO3, U1406_CACO3]
TOC = [U1403_TOC, U1404_TOC, U1405_TOC, U1406_TOC]
TN = [U1403_TN, U1404_TN, U1405_TN, U1406_TN]

# ======================= LAYOUT / STYLE =======================
W, H = 1807, 901
XL, XR, YT, YB = 0, 1807, 0, 901           # reference-pixel window covered by the canvas
Y0, PXM = 162.3, 2.387                     # pixel row of depth 0, pixels per metre
PANEL_X = [[(108, 202), (227, 319), (347, 439)],
           [(604, 697), (717, 809), (826, 920)],
           [(1016, 1108), (1135, 1228), (1254, 1347)],
           [(1459, 1552), (1578, 1670), (1696, 1787)]]
FONT = value("Liberation Sans")
RED, BLUE, DKGREEN, LTGREEN = "#dc0808", "#0000d2", "#0c6a24", "#a0c43c"
BAND_GREEN, BAND_GRAY = "#2eb16e", "#5a5a5a"

p = figure(width=W, height=H, output_backend="svg", toolbar_location=None,
           x_range=Range1d(XL, XR), y_range=Range1d((YB - Y0) / PXM, (YT - Y0) / PXM),
           x_axis_location=None, y_axis_location=None, min_border=0)
p.grid.visible = False
p.outline_line_color = None
p.background_fill_color = "white"
p.extra_y_ranges = {"px": Range1d(YB, YT)}

ranges = {}
for si in range(4):
    for vi in range(3):
        L, R = PANEL_X[si][vi]
        k = AXIS_MAX[vi] / (R - L)
        ranges[f"s{si}v{vi}"] = Range1d((XL - L) * k, (XR - L) * k)
p.extra_x_ranges = ranges

# ---------- data ----------
for si in range(4):
    d, v = zip(*CACO3[si])
    p.line(x=list(v), y=list(d), x_range_name=f"s{si}v0", line_color=RED, line_width=2.4)
    d, v = zip(*TOC[si])
    p.scatter(x=list(v), y=list(d), x_range_name=f"s{si}v1", size=7, fill_color=BLUE, line_color=None)
    d, v = zip(*TN[si])
    p.scatter(x=list(v), y=list(d), x_range_name=f"s{si}v2", size=7, fill_color=DKGREEN, line_color=None)
d, v = zip(*U1403_TN_ALT)
p.scatter(x=list(v), y=list(d), x_range_name="s0v2", size=7, fill_color=LTGREEN, line_color=None)

# ---------- panel frames, ticks, labels ----------
for si in range(4):
    dmax = SITE_DEPTH_MAX[si]
    ybot_px = Y0 + dmax * PXM
    for vi in range(3):
        name = f"s{si}v{vi}"
        L, R = PANEL_X[si][vi]
        vmax = AXIS_MAX[vi]
        p.quad(left=[0], right=[vmax], top=[0], bottom=[dmax], x_range_name=name,
               fill_color=None, line_color="black", line_width=3)
        # left ticks (outside)
        dt = [10 * i for i in range(0, int(dmax // 10) + 1)]
        ln = [8 if t % 50 == 0 else 4.5 for t in dt]
        p.segment(x0=[L - l for l in ln], x1=[L] * len(dt), y0=dt, y1=dt,
                  line_color="black", line_width=2)
        # top / bottom ticks (inside)
        xt = [vmax * i / 10 for i in range(1, 10)]
        tl = [8 if i == 5 else 5 for i in range(1, 10)]
        p.segment(x0=xt, x1=xt, y0=[Y0] * 9, y1=[Y0 + l for l in tl], x_range_name=name,
                  y_range_name="px", line_color="black", line_width=2)
        p.segment(x0=xt, x1=xt, y0=[ybot_px] * 9, y1=[ybot_px - l for l in tl], x_range_name=name,
                  y_range_name="px", line_color="black", line_width=2)
        # top tick labels
        off = -5 if (si == 3 and vi == 2) else -6.5
        p.text(x=[0], y=[153], text=["0"], x_range_name=name, y_range_name="px", text_font=FONT,
               text_font_size="21px", text_align="center", text_baseline="alphabetic", text_color="black")
        p.text(x=[vmax], y=[153], text=[AXIS_MAX_LABELS[vi]], x_range_name=name, y_range_name="px",
               x_offset=off, text_font=FONT, text_font_size="21px", text_align="center",
               text_baseline="alphabetic", text_color="black")
        # column headers
        c = (L + R) / 2
        if vi == 0:
            p.text(x=[c + 26.5], y=[86.5], text=["CaCO"], y_range_name="px", text_font=FONT,
                   text_font_size="23.5px", text_align="right", text_baseline="alphabetic", text_color="black")
            p.text(x=[c + 27], y=[94], text=["3"], y_range_name="px", text_font=FONT,
                   text_font_size="19px", text_align="left", text_baseline="alphabetic", text_color="black")
        else:
            p.text(x=[c], y=[86.5], text=[PROXIES[vi]], y_range_name="px", text_font=FONT,
                   text_font_size="23.5px", text_align="center", text_baseline="alphabetic", text_color="black")
        p.text(x=[c], y=[113], text=["(wt%)"], y_range_name="px", text_font=FONT,
               text_font_size="23.5px", text_align="center", text_baseline="alphabetic", text_color="black")
    # depth labels on the first panel
    L0 = PANEL_X[si][0][0]
    dl = DEPTH_TICK_LABELS[si]
    p.text(x=[L0 - 18.5] * len(dl), y=dl, text=[str(t) for t in dl], text_font=FONT,
           text_font_size="21px", text_align="right", text_baseline="middle", text_color="black")
    # site title
    tc = (PANEL_X[si][0][0] + PANEL_X[si][2][1]) / 2
    p.text(x=[tc], y=[34], text=[SITES[si]], y_range_name="px", text_font=FONT, text_font_size="26px",
           text_font_style="bold", text_align="center", text_baseline="alphabetic", text_color="black")

p.text(x=[28], y=[456], text=["Depth CSF-A (m)"], y_range_name="px", angle=math.pi / 2, text_font=FONT,
       text_font_size="23px", text_align="center", text_baseline="middle", text_color="black")

# ---------- early Miocene correlation band ----------
xs, ys = [], []
for si in range(4):
    xs += [PANEL_X[si][0][0], PANEL_X[si][2][1]]
    ys += [MIOCENE_TOP[si]] * 2
for si in reversed(range(4)):
    xs += [PANEL_X[si][2][1], PANEL_X[si][0][0]]
    ys += [MIOCENE_BASE[si]] * 2
p.patch(x=xs, y=ys, fill_color=BAND_GREEN, fill_alpha=0.25, line_color=None)

# ---------- event bands ----------
for lab, si, top, base in EVENTS:
    p.quad(left=[PANEL_X[si][0][0]], right=[PANEL_X[si][2][1]], top=[top], bottom=[base],
           fill_color=BAND_GRAY, fill_alpha=0.28, line_color=None)

LABEL_POS = [(448, 607.7), (448, 705.7), (626.7, 630), (1734, 619.3)]
for (lab, si, top, base), (lx, ly) in zip(EVENTS, LABEL_POS):
    p.text(x=[lx], y=[ly], text=[lab], y_range_name="px", text_font=FONT, text_font_size="26px",
           text_align="left", text_baseline="alphabetic", text_color="black")
p.text(x=[462.3, 462.3], y=[314.3, 345.7], text=["early", "Miocene"], y_range_name="px", text_font=FONT,
       text_font_size="26px", text_align="left", text_baseline="alphabetic", text_color="black")

open("out.html", "w").write(file_html(p, INLINE))
